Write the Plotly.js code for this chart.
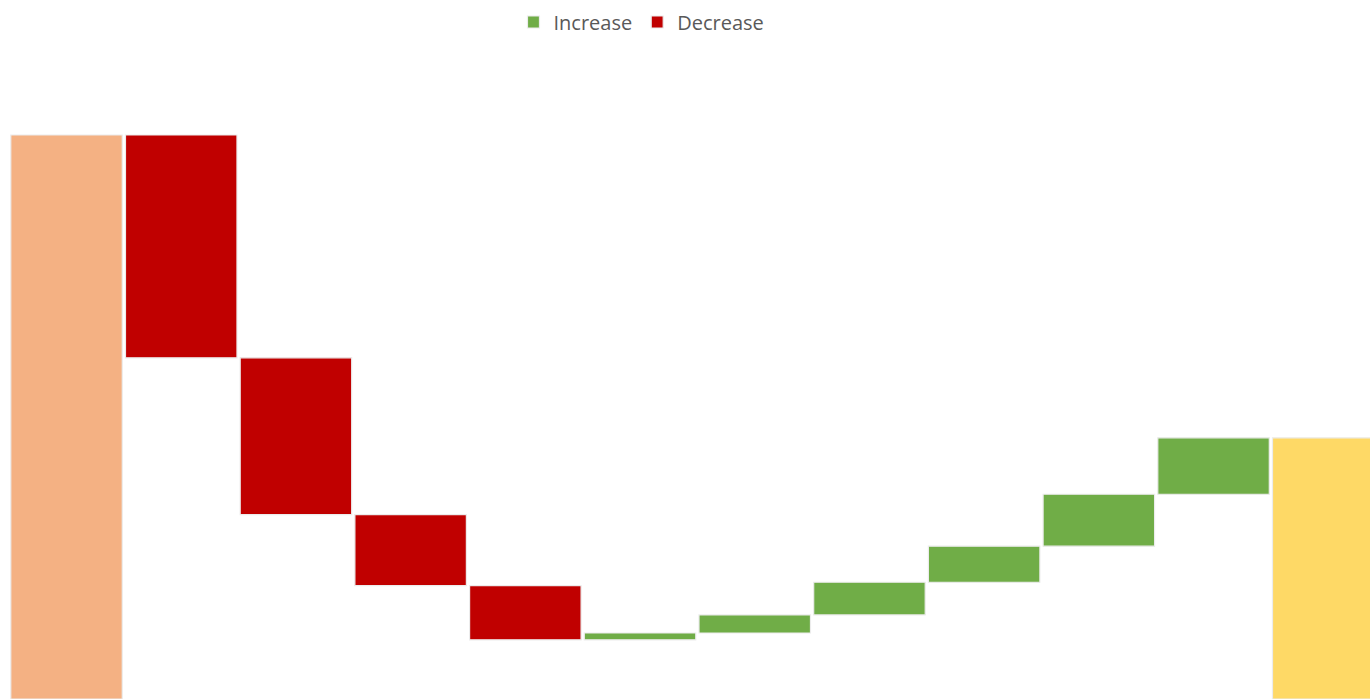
<!DOCTYPE html>
<html>
<head>
<meta charset="utf-8">
<script src="https://cdn.plot.ly/plotly-3.0.1.min.js"></script>
<style>html,body{margin:0;padding:0;background:#fff;}#chart{width:1370px;height:699px;}</style>
</head>
<body>
<div id="chart"></div>
<script>
// Data
const categories = ["Start", "Step 1", "Step 2", "Step 3", "Step 4", "Step 5", "Step 6", "Step 7", "Step 8", "Step 9", "Step 10", "End"];
const startValue = 100;
const changes = [-39.5, -27.8, -12.6, -9.6, 1.2, 3.2, 5.8, 6.4, 9.2, 10.0];
const endValue = 46.3;
const seriesNames = ["Increase", "Decrease"];
const colors = {start: "#F4B183", decrease: "#C00000", increase: "#70AD47", end: "#FED966"};

// Build floating bars from the running total
const incX = [], incY = [], incBase = [];
const decX = [], decY = [], decBase = [];
let running = startValue;
changes.forEach((c, i) => {
  const cat = categories[i + 1];
  if (c >= 0) { incX.push(cat); incY.push(c); incBase.push(running); }
  else { decX.push(cat); decY.push(-c); decBase.push(running + c); }
  running += c;
});

const barWidth = 0.972;
const line = {color: "#ececec", width: 1.2};

const traces = [
  {type: "bar", x: [categories[0]], y: [startValue], base: [0], width: barWidth,
   marker: {color: colors.start, line: line}, showlegend: false, hoverinfo: "y"},
  {type: "bar", name: seriesNames[0], x: incX, y: incY, base: incBase, width: barWidth,
   marker: {color: colors.increase, line: line}},
  {type: "bar", name: seriesNames[1], x: decX, y: decY, base: decBase, width: barWidth,
   marker: {color: colors.decrease, line: line}},
  {type: "bar", x: [categories[categories.length - 1]], y: [endValue], base: [0], width: barWidth,
   marker: {color: colors.end, line: line}, showlegend: false, hoverinfo: "y"}
];

const layout = {
  width: 1370, height: 699,
  margin: {l: 0, r: 0, t: 60, b: 0},
  paper_bgcolor: "#ffffff", plot_bgcolor: "#ffffff",
  barmode: "overlay",
  showlegend: true,
  legend: {orientation: "h", x: 0.3748, xanchor: "left", y: 1.0595, yanchor: "middle",
           font: {family: "Open Sans, sans-serif", size: 20, color: "#595959"},
           traceorder: "normal", bgcolor: "rgba(0,0,0,0)"},
  xaxis: {type: "category", categoryorder: "array", categoryarray: categories,
          range: [-0.58, 11.364], visible: false, fixedrange: true},
  yaxis: {range: [0, 113.3], visible: false, fixedrange: true}
};

Plotly.newPlot("chart", traces, layout, {displayModeBar: false, staticPlot: true});
</script>
</body>
</html>
